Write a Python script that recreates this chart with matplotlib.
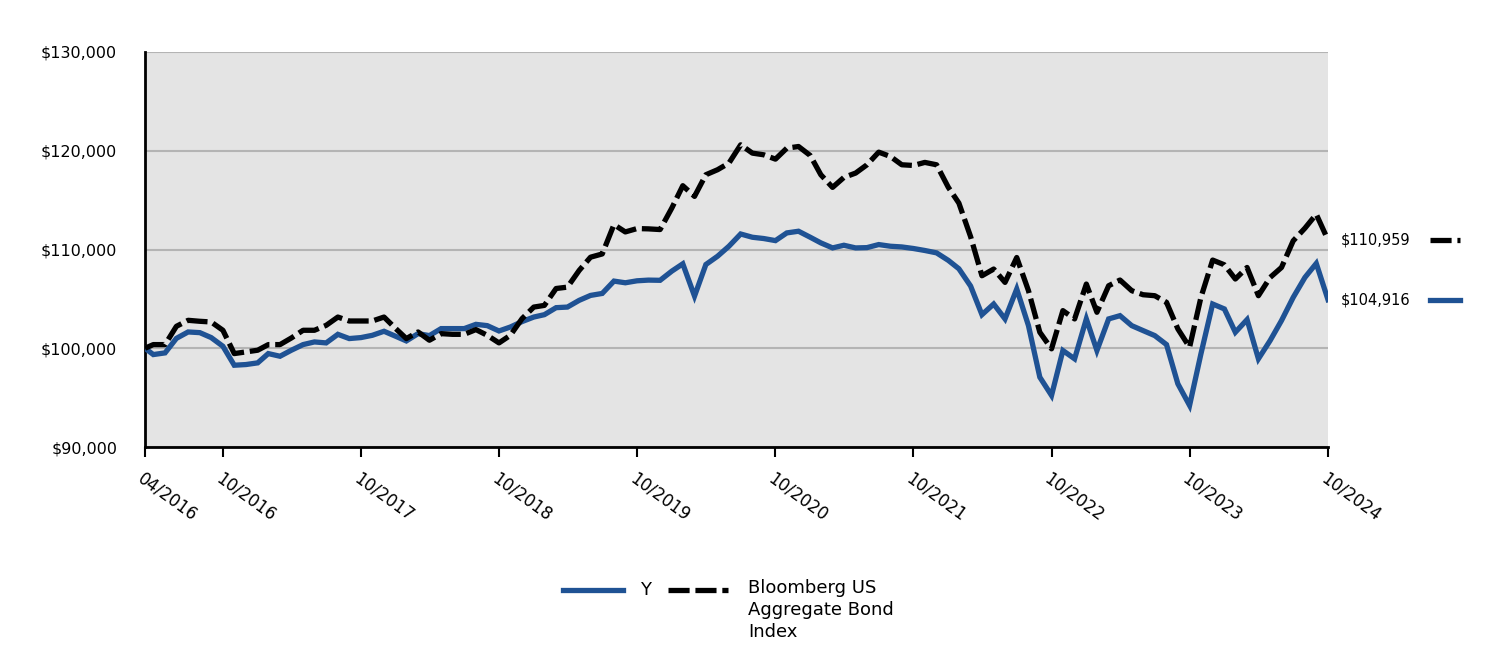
import matplotlib
matplotlib.use("Agg")
import matplotlib.pyplot as plt
import matplotlib.transforms as mtransforms
from matplotlib.lines import Line2D
import pandas as pd

# inception point, then month ends 04/2016 .. 10/2024
inception = pd.Timestamp("2016-04-08")
month_ends = pd.date_range("2016-04-30", "2024-10-31", freq="ME")
dates = [inception] + list(month_ends)

fund_name = "Y"
index_name = "Bloomberg US\nAggregate Bond\nIndex"

fund_values = [
    100000,
    99360, 99530, 101000, 101650, 101580, 101080, 100200, 98280, 98350, 98520,
    99460, 99190, 99800, 100370, 100640, 100540, 101410, 100980, 101080, 101310,
    101720, 101210, 100740, 101480, 101280, 101990, 101990, 101990, 102420, 102290,
    101750, 102150, 102700, 103160, 103400, 104110, 104170, 104850, 105350, 105550,
    106800, 106630, 106830, 106900, 106880, 107810, 108550, 105280, 108480, 109320,
    110330, 111570, 111240, 111110, 110900, 111680, 111850, 111240, 110670, 110160,
    110430, 110160, 110190, 110500, 110330, 110260, 110100, 109900, 109660, 108900,
    108050, 106300, 103400, 104480, 102970, 106000, 102290, 97070, 95220, 99770,
    98930, 102970, 99770, 102970, 103300, 102290, 101790, 101280, 100370, 96400,
    94210, 99430, 104480, 103980, 101620, 102900, 98930, 100780, 102800, 105150,
    107170, 108590, 104916,
]

index_values = [
    100000,
    100370, 100370, 102220, 102830, 102730, 102660, 101820, 99460, 99630, 99800,
    100370, 100370, 101040, 101820, 101820, 102320, 103160, 102760, 102760, 102760,
    103160, 101990, 100980, 101650, 100810, 101480, 101410, 101410, 101890, 101310,
    100540, 101310, 103000, 104170, 104340, 106050, 106190, 107880, 109220, 109550,
    112520, 111780, 112120, 112090, 112020, 114200, 116460, 115380, 117570, 118080,
    118750, 120600, 119760, 119590, 119150, 120260, 120430, 119520, 117570, 116290,
    117300, 117740, 118580, 119860, 119420, 118580, 118510, 118820, 118580, 116300,
    114700, 111300, 107340, 108020, 106670, 109190, 105830, 101620, 99940, 103810,
    102970, 106500, 103640, 106330, 106910, 105830, 105420, 105320, 104650, 101960,
    100100, 105150, 108930, 108450, 107010, 108180, 105320, 107170, 108180, 110880,
    112160, 113570, 110959,
]

tick_dates = [inception] + [pd.Timestamp(f"{y}-10-31") for y in range(2016, 2025)]
tick_labels = ["04/2016"] + [f"10/{y}" for y in range(2016, 2025)]
y_ticks = [90000, 100000, 110000, 120000, 130000]

blue = "#1f5294"
dash = (4, 1.1)

plt.rcParams["font.family"] = ["DejaVu Sans"]

fig = plt.figure(figsize=(15, 6.6), dpi=100)
ax = fig.add_axes([145 / 1500, 1 - 447 / 660, 1183 / 1500, 395 / 660])
ax.set_facecolor("#e4e4e4")

ax.plot(dates, fund_values, color=blue, lw=3.8, solid_joinstyle="miter", zorder=3)
ax.plot(dates, index_values, color="black", lw=3.8, linestyle=(0, dash), zorder=4)

ax.set_ylim(90000, 130000)
ax.set_xlim(dates[0], dates[-1])
ax.set_yticks(y_ticks)
ax.set_yticklabels([f"${v:,.0f}" for v in y_ticks], fontsize=11.5)
ax.yaxis.grid(True, color="#b4b4b4", lw=1.5)
ax.set_axisbelow(True)

ax.set_xticks(tick_dates)
ax.set_xticklabels(tick_labels, fontsize=12, rotation=-36, ha="left", va="top",
                   rotation_mode="anchor")
ax.tick_params(axis="x", length=7, width=1.5, pad=9, direction="out")
ax.tick_params(axis="y", length=0, pad=20)

for side in ["top", "right"]:
    ax.spines[side].set_visible(False)
for side in ["left", "bottom"]:
    ax.spines[side].set_linewidth(2)
    ax.spines[side].set_color("black")

# end-of-period labels on the right
trans = mtransforms.blended_transform_factory(ax.transAxes, ax.transData)
ends = [(index_values[-1], "black", (0, dash)), (fund_values[-1], blue, "-")]
for val, col, ls in ends:
    ax.text(1.011, val, f"${val:,.0f}", transform=trans, fontsize=10.5,
            ha="left", va="center", clip_on=False)
    ax.plot([1.086, 1.112], [val, val], transform=trans, color=col, lw=3.8,
            linestyle=ls, clip_on=False)

# legend, drawn by hand so the handle lines up with the first text line
leg_y = 1 - 590 / 660
fig.add_artist(Line2D([563 / 1500, 623 / 1500], [leg_y, leg_y], color=blue, lw=3.8))
fig.text(640 / 1500, leg_y, fund_name, fontsize=13, ha="left", va="center")
fig.add_artist(Line2D([668 / 1500, 728 / 1500], [leg_y, leg_y], color="black", lw=3.8,
                      linestyle=(0, dash)))
fig.text(748 / 1500, 1 - 579 / 660, index_name, fontsize=13, ha="left", va="top",
         linespacing=1.3)

fig.savefig("out.png", dpi=100)
